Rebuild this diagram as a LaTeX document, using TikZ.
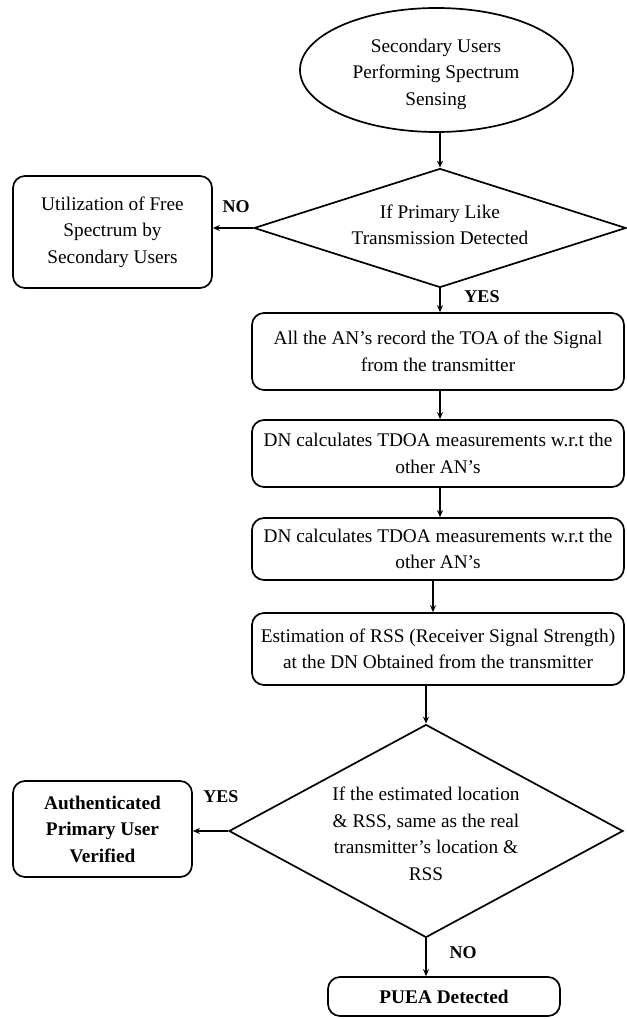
\documentclass[tikz,border=0pt]{standalone}
\usepackage{fontspec}
\setmainfont{Liberation Serif}
\usetikzlibrary{shapes.geometric,arrows.meta}
\begin{document}
\begin{tikzpicture}[x=1pt,y=-1pt,
  every node/.style={font=\fontsize{19.3}{26.5}\selectfont, align=center, inner sep=0pt},
  box/.style={draw, line width=1.7pt, rounded corners=12pt},
  dia/.style={draw, line width=1.7pt, diamond, inner sep=0pt},
  arr/.style={line width=1.4pt, -{Stealth[length=7pt,width=6pt]}},
  lab/.style={font=\fontsize{18}{22}\selectfont\bfseries}]
\useasboundingbox (0,0) rectangle (626,1019);

\node[draw, line width=1.7pt, ellipse, minimum width=273pt, minimum height=124pt] (ell) at (436.5,70) {};
\node (ellt) at (436,74) {Secondary Users\\Performing Spectrum\\Sensing};

\node[dia, minimum width=372pt, minimum height=119pt] (d1) at (440,228) {};
\node (d1t) at (440,225) {If Primary Like\\Transmission Detected};

\node[box, minimum width=199pt, minimum height=112pt] (b1) at (112.5,232)
  {Utilization of Free\\Spectrum by\\Secondary Users};

\node[box, minimum width=372pt, minimum height=77pt] (bA) at (438,351.5)
  {All the AN's record the TOA of the Signal\\from the transmitter};
\node[box, minimum width=372pt, minimum height=67pt] (bB) at (438,453.5)
  {DN calculates TDOA measurements w.r.t the\\other AN's};
\node[box, minimum width=372pt, minimum height=62pt] (bC) at (438,549)
  {DN calculates TDOA measurements w.r.t the\\other AN's};
\node[box, minimum width=372pt, minimum height=72pt] (bD) at (438,649)
  {Estimation of RSS (Receiver Signal Strength)\\at the DN Obtained from the transmitter};

\node[dia, minimum width=394pt, minimum height=213pt] (d2) at (426,831) {};
\node (d2t) at (426,834) {If the estimated location\\\& RSS, same as the real\\transmitter's location \&\\RSS};

\node[box, minimum width=179pt, minimum height=96pt, font=\fontsize{19.3}{26.5}\selectfont\bfseries] (b2) at (102.5,829)
  {Authenticated\\Primary User\\Verified};

\node[box, minimum width=232pt, minimum height=39pt, font=\fontsize{19.3}{26.5}\selectfont\bfseries] (pu) at (444,996.5)
  {PUEA Detected};

\coordinate (c1) at (440,0);
\coordinate (c2) at (433,0);

\draw[arr] (d1.north |- ell.south) -- (d1.north);
\draw[arr] (d1.west) -- (d1.west -| b1.east);
\draw[arr] (d1.south) -- (d1.south |- bA.north);
\draw[arr] (c1 |- bA.south) -- (c1 |- bB.north);
\draw[arr] (c1 |- bB.south) -- (c1 |- bC.north);
\draw[arr] (c2 |- bC.south) -- (c2 |- bD.north);
\draw[arr] (d2.north |- bD.south) -- (d2.north);
\draw[arr] (d2.west) -- (d2.west -| b2.east);
\draw[arr] (d2.south) -- (d2.south |- pu.north);

\node[lab] (no1) at (236,207) {NO};
\node[lab] (yes1) at (482,297) {YES};
\node[lab] (yes2) at (221,797) {YES};
\node[lab] (no2) at (463,953) {NO};
\end{tikzpicture}
\end{document}
